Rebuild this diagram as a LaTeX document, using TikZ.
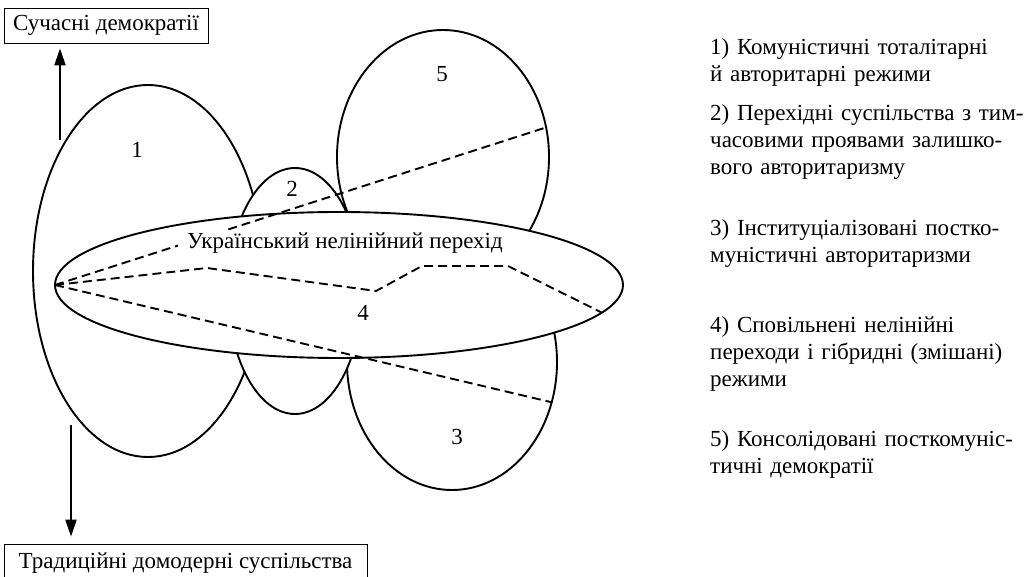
\documentclass[tikz,border=0pt]{standalone}
\usepackage{fontspec}
\setmainfont{Liberation Serif}
\usetikzlibrary{shapes.geometric,arrows.meta}
\newcommand{\jline}[1]{\leavevmode\hbox to 305pt{#1}}
\begin{document}
\begin{tikzpicture}[x=1pt,y=-1pt,
  reg/.style={ellipse,draw,fill=white,line width=1.9pt,inner sep=0pt,outer sep=0pt},
  txt/.style={font=\fontsize{23}{27}\selectfont,inner sep=0pt},
  dline/.style={line width=1.9pt,dash pattern=on 9pt off 5pt},
  tbox/.style={draw,line width=0.8pt,font=\fontsize{23}{27}\selectfont,inner sep=0pt},
  arr/.style={line width=2pt,-{Triangle[length=17pt,width=11pt]}},
  leg/.style={anchor=north west,text width=305pt,align=left,inner sep=0pt,font=\fontsize{23}{27}\selectfont}
]
\useasboundingbox (0,0) rectangle (1027,577);
% regions
\node[reg,minimum width=230pt,minimum height=372pt] (e1) at (148,271) {};
\node[reg,minimum width=212pt,minimum height=254pt] (e5) at (443,157) {};
\node[reg,minimum width=210pt,minimum height=256pt] (e3) at (452,362) {};
\node[reg,minimum width=134pt,minimum height=246pt] (e2) at (295,291) {};
\node[reg,minimum width=568pt,minimum height=146pt] (e0) at (339,285) {};
% dashed paths
\coordinate (k1) at (207,268);
\coordinate (k2) at (376,291);
\coordinate (k3) at (422,266);
\coordinate (k4) at (508,266);
\draw[dline] (e0.west) -- (e5.16);
\draw[dline] (e0.west) -- (k1) -- (k2) -- (k3) -- (k4) -- (e0.-6.5);
\draw[dline] (e0.west) -- (e3.-22.6);
% central label
\node[txt,fill=white,minimum width=334pt,inner ysep=3pt] (ukr) at (345,243) {Український нелінійний перехід};
% numbers
\node[txt] (n1) at (137,150) {1};
\node[txt] (n2) at (292,189) {2};
\node[txt] (n5) at (442,74) {5};
\node[txt] (n4) at (363,313) {4};
\node[txt] (n3) at (457,437) {3};
% boxes and arrows
\node[tbox,minimum width=204pt,minimum height=35pt] (top) at (106,25.5) {Сучасні демократії};
\node[tbox,minimum width=363pt,minimum height=38pt] (bot) at (185.5,563) {Традиційні домодерні суспільства};
\coordinate (u0) at (60,140);
\coordinate (d0) at (71,425);
\draw[arr,shorten >=5pt] (u0) -- (u0 |- top.south);
\draw[arr,shorten >=7pt] (d0) -- (d0 |- bot.north);
% legend
\node[leg] (l1) at (710,38) {1) Комуністичні тоталітарні\\й авторитарні режими};
\node[leg] (l2) at (710,104) {\jline{2) Перехідні суспільства з тим-}\\\jline{часовими проявами залишко-}\\вого авторитаризму};
\node[leg] (l3) at (710,219) {\jline{3) Інституціалізовані постко-}\\муністичні авторитаризми};
\node[leg] (l4) at (710,316) {4) Сповільнені нелінійні\\переходи і гібридні (змішані)\\режими};
\node[leg] (l5) at (710,430) {\jline{5) Консолідовані посткомуніс-}\\тичні демократії};
\end{tikzpicture}
\end{document}
